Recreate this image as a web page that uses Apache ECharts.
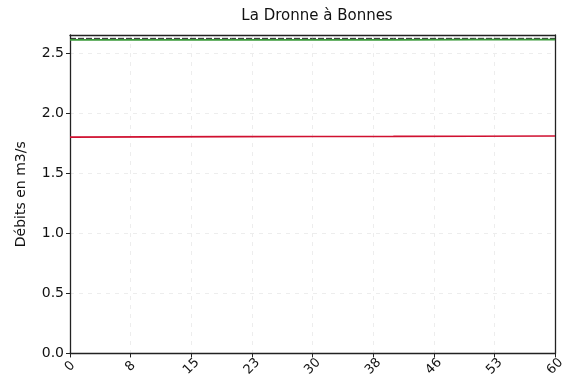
<!DOCTYPE html>
<html><head><meta charset="utf-8">
<script src="https://cdn.jsdelivr.net/npm/echarts@6/dist/echarts.min.js"></script>
<style>html,body{margin:0;padding:0;background:#fff}#c{width:568px;height:379px}</style>
</head><body><div id="c"></div>
<script>
var title = 'La Dronne à Bonnes';
var yName = 'Débits en m3/s';
var xTickLabels = ['0','8','15','23','30','38','46','53','60'];
var days = [0, 10, 20, 30, 40, 50, 60];
var blackSeries = [2.622, 2.622, 2.622, 2.622, 2.622, 2.622, 2.622];
var greenSeries = [2.61, 2.61, 2.61, 2.61, 2.61, 2.612, 2.612];
var redSeries = [1.80, 1.802, 1.804, 1.805, 1.806, 1.808, 1.81];

function pairs(xs, ys){ return xs.map(function(x,i){ return [x, ys[i]]; }); }

var chart = echarts.init(document.getElementById('c'), null, {renderer:'canvas'});
var font = 'DejaVu Sans';
var frame = {show:true,onZero:false,lineStyle:{color:'#222',width:1.3}};
chart.setOption({
  animation:false,
  backgroundColor:'#fff',
  title:{text:title,left:312,top:4,textAlign:'center',textStyle:{fontFamily:font,fontSize:15,fontWeight:'normal',color:'#111'}},
  grid:{left:70,right:13,top:35,bottom:20},
  xAxis:[{type:'value',min:0,max:60,interval:7.5,
    axisLine:frame,
    axisTick:{show:true,length:4,lineStyle:{color:'#222'}},
    axisLabel:{rotate:45,align:'center',verticalAlign:'middle',fontFamily:font,fontSize:13,color:'#111',margin:13,
      formatter:function(v){return xTickLabels[Math.round(v/7.5)];}},
    splitLine:{show:true,lineStyle:{color:'#ededed',type:[4,5],width:1}}},
   {type:'value',position:'top',min:0,max:60,axisLine:frame,axisTick:{show:false},axisLabel:{show:false},splitLine:{show:false}}],
  yAxis:[{type:'value',min:0,max:2.65,interval:0.5,
    name:yName,nameLocation:'middle',nameGap:42,nameTextStyle:{fontFamily:font,fontSize:14,color:'#111'},
    axisLine:frame,
    axisTick:{show:true,length:4,lineStyle:{color:'#222'}},
    axisLabel:{fontFamily:font,fontSize:14,color:'#111',margin:6,showMaxLabel:false,
      formatter:function(v){return v.toFixed(1);}},
    splitLine:{show:true,lineStyle:{color:'#ededed',type:[4,5],width:1}}},
   {type:'value',position:'right',min:0,max:2.65,axisLine:frame,axisTick:{show:false},axisLabel:{show:false},splitLine:{show:false}}],
  series:[
    {type:'line',data:pairs(days,blackSeries),symbol:'none',lineStyle:{color:'#222',width:1,type:[6,2]}},
    {type:'line',data:pairs(days,greenSeries),symbol:'none',lineStyle:{color:'#3a9a3a',width:1.8}},
    {type:'line',data:pairs(days,redSeries),symbol:'none',lineStyle:{color:'#d01030',width:1.6}}
  ]
});
</script></body></html>
